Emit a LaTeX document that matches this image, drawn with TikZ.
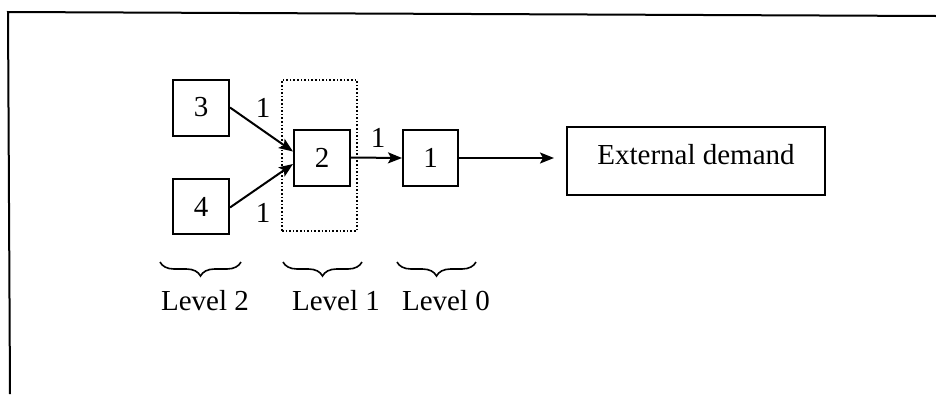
\documentclass[tikz,border=0pt]{standalone}
\usepackage{fontspec}
\setmainfont{Liberation Serif}
\usetikzlibrary{arrows.meta,calc,decorations.pathreplacing}
\begin{document}
\begin{tikzpicture}[x=1pt,y=-1pt,
  every node/.style={font=\fontsize{29}{34}\selectfont, inner sep=0pt},
  numbox/.style={draw, line width=2pt, minimum width=56pt, minimum height=56pt},
  conn/.style={line width=2pt, -{Stealth[length=14pt,width=11pt,inset=3pt]}},
  lbl/.style={},
  brc/.style={line width=1.6pt, decorate, decoration={brace, mirror, amplitude=14pt}}
]
\useasboundingbox (0,0) rectangle (936,394);
% outer frame
\coordinate (fr1) at (936,16);
\coordinate (fr2) at (8,12);
\coordinate (fr3) at (10,394);
\draw[line width=2pt] (fr1) -- (fr2) -- (fr3);

% group box
\node[draw, dotted, line width=1.6pt, minimum width=75pt, minimum height=151pt] (grp) at (319.5,155.5) {};

\node[numbox] (n3) at (201,107.5) {3};
\node[numbox, minimum height=55pt] (n4) at (201,206.5) {4};
\node[numbox] (n2) at (322,157.5) {2};
\node[numbox, minimum width=55pt] (n1) at (430.5,158) {1};
\node[draw, line width=2pt, minimum width=258pt, minimum height=68pt, text depth=14pt] (ext) at (696,161) {External demand};

\draw[conn] (n3.east) -- ($(n2.west)+(0,-6)$);
\draw[conn] ($(n4.east)+(0,1)$) -- ($(n2.west)+(0,6.5)$);
\draw[conn] (n2.east) -- (n1.west);
\draw[conn, shorten >=12pt] (n1.east) -- (n1.east -| ext.west);

\node[lbl] (w32) at (263,108) {1};
\node[lbl] (w42) at (263,213) {1};
\node[lbl] (w21) at (378,138) {1};

\coordinate (b2a) at (160,262);
\coordinate (b2b) at (241,262);
\coordinate (b1a) at (283,262);
\coordinate (b1b) at (362,262);
\coordinate (b0a) at (397,262);
\coordinate (b0b) at (476,262);
\draw[brc] (b2a) -- (b2b);
\draw[brc] (b1a) -- (b1b);
\draw[brc] (b0a) -- (b0b);

\node (l2) at (205,301) {Level 2};
\node (l1) at (336,301) {Level 1};
\node (l0) at (446,301) {Level 0};
\end{tikzpicture}
\end{document}
